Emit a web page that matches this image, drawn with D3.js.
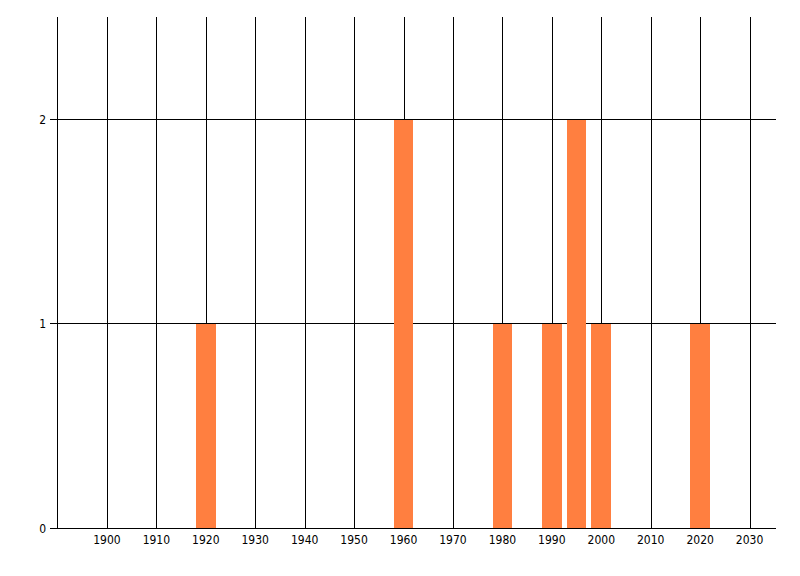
<!DOCTYPE html>
<html><head><meta charset="utf-8">
<script src="https://cdn.jsdelivr.net/npm/d3@7"></script>
<style>body{margin:0;background:#fff;} svg{display:block;}</style>
</head><body>
<svg id="c" width="800" height="576"></svg>
<script>
const years = [1920, 1960, 1980, 1990, 1995, 2000, 2020];
const counts = [1, 2, 1, 1, 2, 1, 1];
const xTicks = [1900, 1910, 1920, 1930, 1940, 1950, 1960, 1970, 1980, 1990, 2000, 2010, 2020, 2030];
const yTicks = [0, 1, 2];
const barHalfWidth = 2;

const svg = d3.select("#c");
const x = d3.scaleLinear().domain([1890, 2035]).range([57.5, 774.3]);
const y = d3.scaleLinear().domain([0, 2.5]).range([528.5, 17.25]);
const font = "Tahoma, 'DejaVu Sans Condensed', 'Liberation Sans', sans-serif";

// vertical gridlines
svg.append("g").selectAll("line").data(xTicks).join("line")
  .attr("x1", d => Math.round(x(d)) + 0.5).attr("x2", d => Math.round(x(d)) + 0.5)
  .attr("y1", 17).attr("y2", 528)
  .attr("stroke", "#000").attr("stroke-width", 1);
// y axis line
svg.append("line").attr("x1", 57.5).attr("x2", 57.5).attr("y1", 17).attr("y2", 528)
  .attr("stroke", "#000");
// horizontal gridlines
svg.append("g").selectAll("line").data(yTicks.filter(d => d > 0)).join("line")
  .attr("x1", 50).attr("x2", 776)
  .attr("y1", d => Math.floor(y(d)) + 0.5).attr("y2", d => Math.floor(y(d)) + 0.5)
  .attr("stroke", "#000");

// bars
svg.append("g").selectAll("rect").data(years.map((yr, i) => ({yr, c: counts[i]}))).join("rect")
  .attr("x", d => x(d.yr - barHalfWidth))
  .attr("width", d => x(d.yr + barHalfWidth) - x(d.yr - barHalfWidth))
  .attr("y", d => y(d.c))
  .attr("height", d => y(0) - y(d.c))
  .attr("fill", "#FF7F40")
  .attr("shape-rendering", "crispEdges");

// x axis line
svg.append("line").attr("x1", 50).attr("x2", 776).attr("y1", 528.5).attr("y2", 528.5).attr("stroke", "#000");

// x labels
svg.append("g").selectAll("text").data(xTicks).join("text")
  .attr("x", d => x(d)).attr("y", 544)
  .attr("text-anchor", "middle")
  .attr("font-family", font).attr("font-size", "12px").attr("fill", "#000")
  .text(d => d);
// y labels
svg.append("g").selectAll("text").data(yTicks).join("text")
  .attr("x", 46).attr("y", d => y(d) + 4)
  .attr("text-anchor", "end")
  .attr("font-family", font).attr("font-size", "12px").attr("fill", "#000")
  .text(d => d);
</script>
</body></html>
